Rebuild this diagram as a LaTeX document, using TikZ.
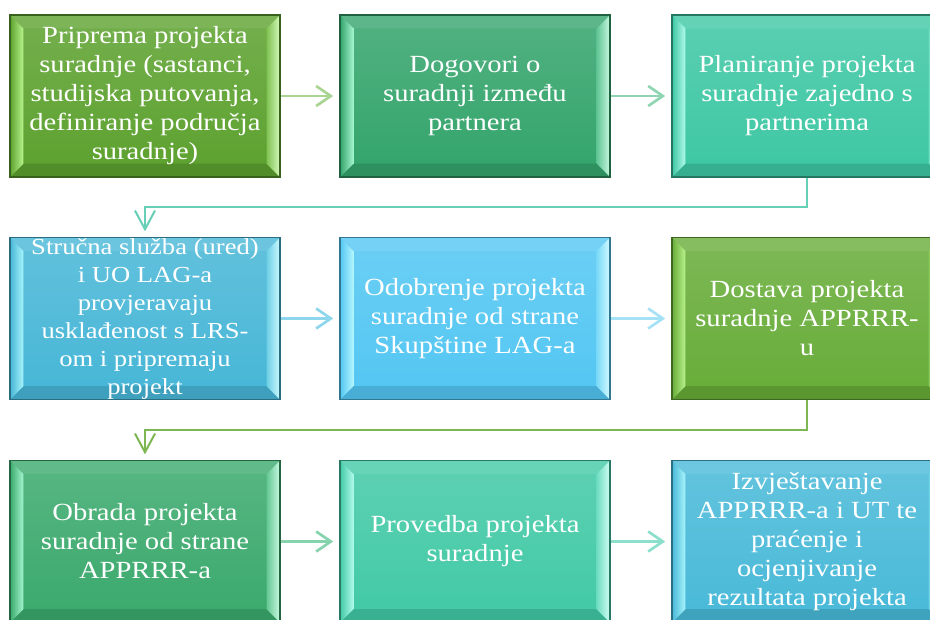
\documentclass[tikz,border=0pt]{standalone}
\usepackage{fontspec}
\setmainfont{Liberation Serif}[FakeStretch=1.16]
\usetikzlibrary{arrows.meta,calc}
\definecolor{fA}{HTML}{5CA12E}\definecolor{hA}{HTML}{B8F58C}
\definecolor{fB}{HTML}{33A46B}\definecolor{hB}{HTML}{A4F5CF}
\definecolor{fC}{HTML}{3DC7A3}\definecolor{hC}{HTML}{B0FAEB}
\definecolor{fD}{HTML}{46B6D6}\definecolor{hD}{HTML}{A8F4FC}
\definecolor{fE}{HTML}{52C6F2}\definecolor{hE}{HTML}{B4F6FF}
\definecolor{fF}{HTML}{67AC38}\definecolor{hF}{HTML}{B8F28C}
\definecolor{fG}{HTML}{3AA96C}\definecolor{hG}{HTML}{A4F5CF}
\definecolor{fH}{HTML}{41C9A5}\definecolor{hH}{HTML}{B0FAEB}
\definecolor{fI}{HTML}{48B9D8}\definecolor{hI}{HTML}{A8F4FC}
\definecolor{aAB}{HTML}{A9D592}\definecolor{aBC}{HTML}{8FD5B1}
\definecolor{aCD}{HTML}{66CFB6}\definecolor{aDE}{HTML}{8ED6EC}
\definecolor{aEF}{HTML}{A6E2F6}\definecolor{aFG}{HTML}{7DB653}
\definecolor{aGH}{HTML}{86D3AE}\definecolor{aHI}{HTML}{8CE0CB}
\def\bv{10pt}
\tikzset{
  bevbox/.style 2 args={draw=#1!60!black, line width=1.2pt,
    minimum width=202.5pt, minimum height=121.5pt, inner sep=0pt,
    align=center, text=white, font=\fontsize{18.5}{21.75}\selectfont,
    top color=#1!85!white, bottom color=#1,
    path picture={
      \coordinate (NW) at (path picture bounding box.north west);
      \coordinate (NE) at (path picture bounding box.north east);
      \coordinate (SW) at (path picture bounding box.south west);
      \coordinate (SE) at (path picture bounding box.south east);
      \fill[#1!80!white] (NW) -- (NE) -- ($(NE)+(-\bv,-\bv)$) -- ($(NW)+(\bv,-\bv)$) -- cycle;
      \fill[#1!88!black] (SW) -- (SE) -- ($(SE)+(-\bv,\bv)$) -- ($(SW)+(\bv,\bv)$) -- cycle;
      \shade[left color=#1, right color=#2] (NW) -- ($(NW)+(\bv,-\bv)$) -- ($(SW)+(\bv,\bv)$) -- (SW) -- cycle;
      \shade[left color=#1!60!#2, right color=#2!60!white] (NE) -- (SE) -- ($(SE)+(-\bv,\bv)$) -- ($(NE)+(-\bv,-\bv)$) -- cycle;
    }},
  smalltext/.style={font=\fontsize{17.2}{21}\selectfont},
  harrow/.style={draw=#1, line width=2.2pt, shorten >=4.5pt,
    -{Straight Barb[length=11pt,width=15pt,line width=2pt]}},
  elbow/.style={draw=#1, line width=1.5pt, shorten >=4pt,
    -{Straight Barb[length=14pt,width=15pt,line width=1.5pt]}},
}
\begin{document}
\begin{tikzpicture}[x=0.75pt,y=-0.75pt]
\clip (0,0) rectangle (930,619);
\fill[white] (0,0) rectangle (930,619);
\node[bevbox={fA}{hA}] (n1) at (145,96) {Priprema projekta\\suradnje (sastanci,\\studijska putovanja,\\definiranje područja\\suradnje)};
\node[bevbox={fB}{hB}] (n2) at (475,96) {Dogovori o\\suradnji između\\partnera};
\node[bevbox={fC}{hC}] (n3) at (807,96) {Planiranje projekta\\suradnje zajedno s\\partnerima};
\node[bevbox={fD}{hD}, smalltext] (n4) at (145,318.5) {Stručna služba (ured)\\i UO LAG-a\\provjeravaju\\usklađenost s LRS-\\om i pripremaju\\projekt};
\node[bevbox={fE}{hE}] (n5) at (475,318.5) {Odobrenje projekta\\suradnje od strane\\Skupštine LAG-a};
\node[bevbox={fF}{hF}] (n6) at (807,318.5) {Dostava projekta\\suradnje APPRRR-\\u};
\node[bevbox={fG}{hG}] (n7) at (145,541.5) {Obrada projekta\\suradnje od strane\\APPRRR-a};
\node[bevbox={fH}{hH}] (n8) at (475,541.5) {Provedba projekta\\suradnje};
\node[bevbox={fI}{hI}] (n9) at (807,541.5) {Izvještavanje\\APPRRR-a i UT te\\praćenje i\\ocjenjivanje\\rezultata projekta};
\draw[harrow=aAB] (n1) -- (n2);
\draw[harrow=aBC] (n2) -- (n3);
\draw[elbow=aCD] (n3.south) -- ($(n3.south)!0.5!(n3.south|-n4.north)$) -| (n4.north);
\draw[harrow=aDE] (n4) -- (n5);
\draw[harrow=aEF] (n5) -- (n6);
\draw[elbow=aFG] (n6.south) -- ($(n6.south)!0.5!(n6.south|-n7.north)$) -| (n7.north);
\draw[harrow=aGH] (n7) -- (n8);
\draw[harrow=aHI] (n8) -- (n9);
\end{tikzpicture}
\end{document}
